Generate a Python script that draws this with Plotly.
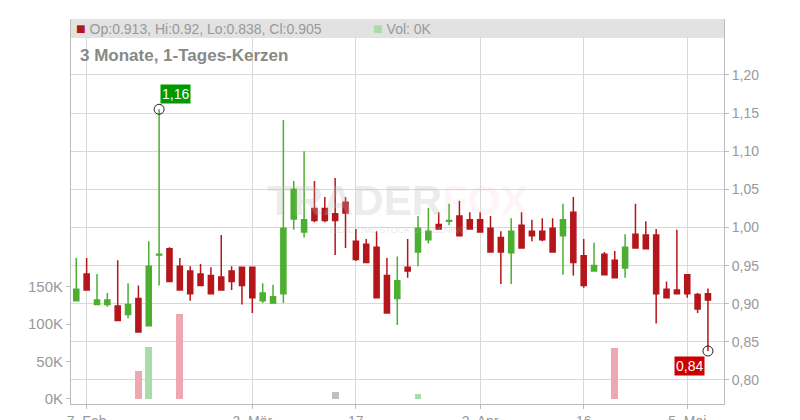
import plotly.graph_objects as go

dates = ["2025-02-06","2025-02-07","2025-02-10","2025-02-11","2025-02-12","2025-02-13","2025-02-14",
         "2025-02-17","2025-02-18","2025-02-19","2025-02-20","2025-02-21",
         "2025-02-24","2025-02-25","2025-02-26","2025-02-27","2025-02-28",
         "2025-03-03","2025-03-04","2025-03-05","2025-03-06","2025-03-07",
         "2025-03-10","2025-03-11","2025-03-12","2025-03-13","2025-03-14",
         "2025-03-17","2025-03-18","2025-03-19","2025-03-20","2025-03-21",
         "2025-03-24","2025-03-25","2025-03-26","2025-03-27","2025-03-28","2025-03-31",
         "2025-04-01","2025-04-02","2025-04-03","2025-04-04",
         "2025-04-07","2025-04-08","2025-04-09","2025-04-10","2025-04-11",
         "2025-04-14","2025-04-15","2025-04-16","2025-04-17",
         "2025-04-22","2025-04-23","2025-04-24","2025-04-25",
         "2025-04-28","2025-04-29","2025-04-30",
         "2025-05-02","2025-05-05","2025-05-06","2025-05-07"]

opens  = [0.904,0.939,0.899,0.899,0.897,0.886,0.907,0.871,0.964,0.972,0.949,0.943,0.939,0.937,0.935,0.943,0.948,
          0.948,0.904,0.901,0.913,1.011,0.994,1.025,1.025,1.018,1.033,0.982,0.978,0.974,0.937,0.907,0.948,0.968,0.984,
          1.004,1.008,1.015,1.010,1.010,0.999,0.987,0.967,1.003,0.995,0.995,0.999,0.989,1.020,0.963,0.943,0.965,0.957,
          0.947,0.991,0.990,0.990,0.919,0.918,0.938,0.912,0.913]
highs  = [0.960,0.960,0.939,0.914,0.957,0.927,0.924,0.982,1.155,0.974,0.960,0.949,0.952,0.948,0.990,0.949,0.948,
          0.948,0.927,0.925,1.141,1.061,1.100,1.061,1.040,1.065,1.040,0.998,0.985,0.995,0.960,0.962,0.985,1.015,1.026,
          1.020,1.031,1.035,1.020,1.020,1.015,0.995,1.012,1.020,1.010,1.012,1.012,1.031,1.040,0.985,0.980,0.968,0.969,
          0.991,1.031,1.008,0.998,0.929,0.997,0.938,0.914,0.920]
lows   = [0.904,0.918,0.899,0.896,0.878,0.881,0.863,0.871,0.924,0.929,0.918,0.904,0.924,0.913,0.918,0.918,0.899,
          0.888,0.901,0.901,0.901,0.997,0.987,1.007,1.007,0.964,0.973,0.956,0.954,0.908,0.888,0.872,0.934,0.949,0.979,
          0.998,1.003,0.989,0.998,0.994,0.968,0.926,0.926,0.973,0.982,0.982,0.968,0.938,0.937,0.921,0.943,0.938,0.934,
          0.934,0.973,0.971,0.874,0.908,0.913,0.908,0.888,0.838]
closes = [0.919,0.918,0.905,0.905,0.878,0.899,0.863,0.949,0.965,0.929,0.918,0.913,0.924,0.913,0.918,0.929,0.924,
          0.908,0.914,0.909,0.999,1.050,1.010,1.009,1.009,1.009,1.019,0.958,0.954,0.908,0.888,0.930,0.943,0.999,0.995,
          0.998,1.009,0.989,0.998,0.994,0.968,0.968,0.995,0.973,0.989,0.984,0.968,1.010,0.954,0.924,0.950,0.938,0.934,
          0.974,0.973,0.972,0.913,0.908,0.913,0.913,0.893,0.905]
vol_idx = [6, 7, 10, 25, 33, 52]
vol_val = [37, 70, 114, 9, 6, 68]
vol_col = ["#f0a8b0", "#a8dca8", "#f0a8b0", "#c0c0c0", "#a8dca8", "#f0a8b0"]

x_tickvals = ["2025-02-07", "2025-03-03", "2025-03-17", "2025-04-02", "2025-04-16", "2025-05-05"]
x_ticktext = ["7. Feb", "3. Mär", "17", "2. Apr", "16", "5. Mai"]
p_ticks = [0.80, 0.85, 0.90, 0.95, 1.00, 1.05, 1.10, 1.15, 1.20]
v_ticks = [0, 50, 100, 150]

RED = "#b4161b"
GREEN = "#4caf32"
FONT = "Liberation Sans"

fig = go.Figure()
fig.add_trace(go.Bar(x=[dates[i] for i in vol_idx], y=vol_val, marker=dict(color=vol_col, line_width=0),
                     width=0.65, yaxis="y2", showlegend=False, hoverinfo="skip"))
fig.add_trace(go.Candlestick(x=dates, open=opens, high=highs, low=lows, close=closes,
                             increasing=dict(line=dict(color=GREEN, width=1.5), fillcolor=GREEN),
                             decreasing=dict(line=dict(color=RED, width=1.5), fillcolor=RED),
                             whiskerwidth=0, showlegend=False))
hi_i = highs.index(max(highs)); lo_i = lows.index(min(lows))
fig.add_trace(go.Scatter(x=[dates[hi_i], dates[lo_i]], y=[highs[hi_i], lows[lo_i]], mode="markers",
                         marker=dict(symbol="circle-open", size=10, color="#222", line_width=1), showlegend=False))
fig.add_annotation(x=dates[hi_i], y=highs[hi_i], text="1,16", showarrow=False, xanchor="left", yanchor="bottom",
                   xshift=1, yshift=5, bgcolor="#009900", font=dict(color="white", size=14, family=FONT), borderpad=1)
fig.add_annotation(x=dates[lo_i], y=lows[lo_i], text="0,84", showarrow=False, xanchor="right", yanchor="top",
                   xshift=-3, yshift=-5, bgcolor="#cc0000", font=dict(color="white", size=14, family=FONT), borderpad=1)

fig.add_shape(type="rect", xref="paper", yref="paper", x0=0, x1=1, y0=(396-30)/385, y1=1,
              fillcolor="#e2e2e2", line_width=0, layer="above")
fig.add_annotation(xref="paper", yref="paper", x=0.004, y=1-(20-11)/385, xanchor="left", yanchor="middle",
                   text="<span style='color:#b4161b;font-size:16px'>■</span> Op:0.913, Hi:0.92, Lo:0.838, Cl:0.905",
                   showarrow=False, font=dict(size=14, color="#999", family=FONT))
fig.add_annotation(xref="paper", yref="paper", x=(363-63)/653, y=1-(20-11)/385, xanchor="left", yanchor="middle",
                   text="<span style='color:#a8dca8;font-size:16px'>■</span> Vol: 0K",
                   showarrow=False, font=dict(size=14, color="#999", family=FONT))
fig.add_annotation(xref="paper", yref="paper", x=(70-63)/653, y=1-(47-11)/385, xanchor="left", yanchor="middle",
                   text="<b>3 Monate, 1-Tages-Kerzen</b>", showarrow=False,
                   font=dict(size=17, color="#888", family=FONT))
fig.add_annotation(xref="paper", yref="paper", x=(390-63)/653, y=1-(192-11)/385, xanchor="center", yanchor="middle",
                   text="<b>TRADER<span style='color:rgba(245,160,160,0.35)'>FOX</span></b>", showarrow=False,
                   font=dict(size=42, color="rgba(190,190,190,0.3)", family=FONT))
fig.add_annotation(xref="paper", yref="paper", x=(390-63)/653, y=1-(222-11)/385, xanchor="center", yanchor="middle",
                   text="REAL TIME STOCK SCREENING", showarrow=False,
                   font=dict(size=9, color="rgba(190,190,190,0.35)", family=FONT))

fig.update_layout(
    width=800, height=420, margin=dict(l=63, r=84, t=11, b=24, autoexpand=False),
    paper_bgcolor="white", plot_bgcolor="white", bargap=0,
    xaxis=dict(type="category", categoryorder="array", categoryarray=dates, range=[-0.51, 62.55],
               tickvals=x_tickvals, ticktext=x_ticktext, showgrid=True, gridcolor="#d8d8d8",
               rangeslider=dict(visible=False), showline=True, linecolor="#bbb", ticks="outside",
               ticklen=4, tickcolor="#bbb", automargin=False,
               tickfont=dict(size=14, color="#999", family=FONT)),
    yaxis=dict(side="right", range=[0.7685, 1.2734], tickvals=p_ticks, automargin=False,
               ticktext=[f"{v:.2f}".replace(".", ",") for v in p_ticks], showgrid=True, gridcolor="#d8d8d8",
               zeroline=False, tickfont=dict(size=14, color="#999", family=FONT),
               showline=True, linecolor="#bbb", ticks="outside", ticklen=4, tickcolor="#bbb"),
    yaxis2=dict(overlaying="y", side="left", range=[-6.7, 507], tickvals=v_ticks, automargin=False,
                ticktext=[f"{v}K" for v in v_ticks], showgrid=False, zeroline=False,
                showline=True, linecolor="#bbb", ticks="outside", ticklen=4, tickcolor="#bbb",
                tickfont=dict(size=15, color="#999", family=FONT)),
)
fig.write_html("out.html")
